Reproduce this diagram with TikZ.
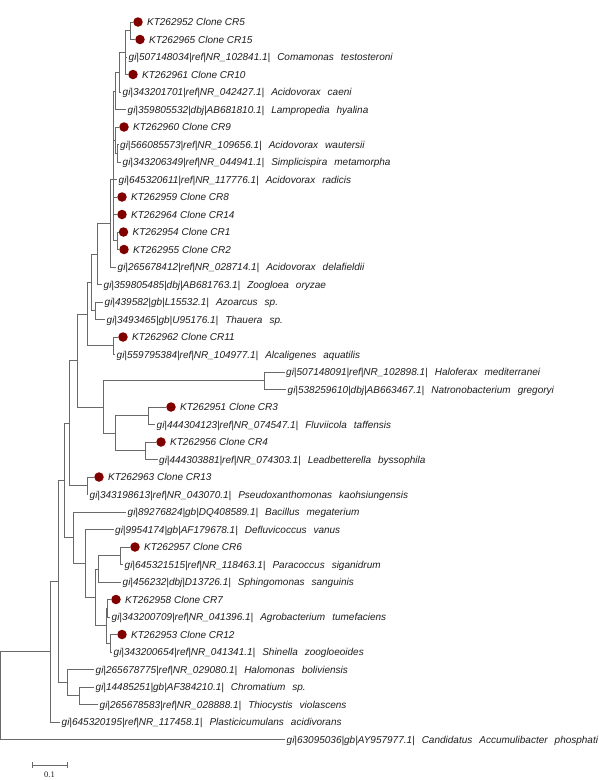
\documentclass[tikz,border=0pt]{standalone}
\usepackage{fontspec}
\newfontfamily\leaffamily{Liberation Sans}
\newfontfamily\scalefamily{Liberation Serif}
\definecolor{linecol}{RGB}{105,105,105}
\definecolor{textcol}{RGB}{30,30,30}
\definecolor{dotcol}{RGB}{128,0,0}
\newcommand\sgap{\hspace{0.7em}}
\newcommand\cloneleaf[5]{%
  \node[dot] (#1) at (#2,#3) {};
  \node[leaf, xshift=2.5pt] (#1t) at (#1.east) {#5};
  \draw[br] (#4) |- (#1);}
\newcommand\refleaf[5]{%
  \coordinate (#1) at (#2,#3);
  \node[leaf] (#1t) at (#1) {#5};
  \draw[br] (#4) |- (#1);}
\tikzset{
  br/.style={draw=linecol, line width=0.8pt},
  leaf/.style={anchor=west, inner xsep=1.5pt, inner ysep=0pt, text=textcol,
    font=\leaffamily\itshape\fontsize{10}{12}\selectfont, text height=9.16pt, text depth=2pt},
  dot/.style={circle, fill=dotcol, draw=none, minimum size=9.5pt, inner sep=0pt},
  scalelabel/.style={font=\scalefamily\fontsize{8.5}{10}\selectfont, text=textcol, inner sep=0pt}
}
\begin{document}
\begin{tikzpicture}[x=1pt, y=-1pt]
\path[fill=white, use as bounding box] (0,0) rectangle (598,780);
% internal nodes
\coordinate (root) at (0.6,695.6);
\coordinate (N) at (50,651.75);
\coordinate (M) at (58,581.5);
\coordinate (R) at (64,480.4);
\coordinate (Q) at (69,423.1);
\coordinate (P1) at (77,360.5);
\coordinate (P2) at (87,314);
\coordinate (P3) at (91,282.3);
\coordinate (P4) at (97,253.9);
\coordinate (T0) at (110,223.25);
\coordinate (T1) at (113,179.5);
\coordinate (A4) at (115,90.9);
\coordinate (A3) at (119,72.3);
\coordinate (A2) at (125.5,52.6);
\coordinate (A1) at (130,30.75);
\coordinate (B2) at (115.5,140.1);
\coordinate (B1) at (117,153.25);
\coordinate (C1) at (117,240.75);
\coordinate (AT) at (95,310.75);
\coordinate (C11) at (113,345.75);
\coordinate (HB) at (103,407);
\coordinate (HF) at (264,380.75);
\coordinate (FL) at (115,433.25);
\coordinate (C3) at (148,415.75);
\coordinate (C4) at (145,450.75);
\coordinate (C13) at (87,485.75);
\coordinate (B) at (73,537.7);
\coordinate (D) at (85,563.4);
\coordinate (E) at (95,597.3);
\coordinate (F) at (98,568.9);
\coordinate (C6) at (120,555.75);
\coordinate (G) at (106,625.75);
\coordinate (C7) at (107.5,608.25);
\coordinate (C12) at (110,643.25);
\coordinate (H) at (67,682.6);
\coordinate (CT) at (79,695.75);
% internal branches
\draw[br] (root) |- (N);
\draw[br] (N) |- (M);
\draw[br] (M) |- (R);
\draw[br] (M) |- (H);
\draw[br] (R) |- (Q);
\draw[br] (R) |- (B);
\draw[br] (Q) |- (P1);
\draw[br] (Q) |- (C13);
\draw[br] (P1) |- (P2);
\draw[br] (P1) |- (HB);
\draw[br] (P2) |- (P3);
\draw[br] (P2) |- (C11);
\draw[br] (P3) |- (P4);
\draw[br] (P3) |- (AT);
\draw[br] (P4) |- (T0);
\draw[br] (T0) |- (T1);
\draw[br] (T1) |- (A4);
\draw[br] (T1) |- (B2);
\draw[br] (T1) |- (C1);
\draw[br] (A4) |- (A3);
\draw[br] (A3) |- (A2);
\draw[br] (A2) |- (A1);
\draw[br] (B2) |- (B1);
\draw[br] (HB) |- (HF);
\draw[br] (HB) |- (FL);
\draw[br] (FL) |- (C3);
\draw[br] (FL) |- (C4);
\draw[br] (B) |- (D);
\draw[br] (D) |- (E);
\draw[br] (E) |- (F);
\draw[br] (E) |- (G);
\draw[br] (F) |- (C6);
\draw[br] (G) |- (C7);
\draw[br] (G) |- (C12);
\draw[br] (H) |- (CT);
% leaves
\cloneleaf{L1}{138}{22}{A1}{KT262952 Clone CR5}
\cloneleaf{L2}{140}{39.5}{A1}{KT262965 Clone CR15}
\refleaf{L3}{127}{57}{A2}{gi|507148034|ref|NR\_102841.1|\sgap Comamonas\sgap testosteroni}
\cloneleaf{L4}{133}{74.5}{A2}{KT262961 Clone CR10}
\refleaf{L5}{121}{92}{A3}{gi|343201701|ref|NR\_042427.1|\sgap Acidovorax\sgap caeni}
\refleaf{L6}{126}{109.5}{A4}{gi|359805532|dbj|AB681810.1|\sgap Lampropedia\sgap hyalina}
\cloneleaf{L7}{124}{127}{B2}{KT262960 Clone CR9}
\refleaf{L8}{118.5}{144.5}{B1}{gi|566085573|ref|NR\_109656.1|\sgap Acidovorax\sgap wautersii}
\refleaf{L9}{121}{162}{B1}{gi|343206349|ref|NR\_044941.1|\sgap Simplicispira\sgap metamorpha}
\refleaf{L10}{117}{179.5}{T1}{gi|645320611|ref|NR\_117776.1|\sgap Acidovorax\sgap radicis}
\cloneleaf{L11}{122}{197}{T1}{KT262959 Clone CR8}
\cloneleaf{L12}{122}{214.5}{T1}{KT262964 Clone CR14}
\cloneleaf{L13}{123.5}{232}{C1}{KT262954 Clone CR1}
\cloneleaf{L14}{124}{249.5}{C1}{KT262955 Clone CR2}
\refleaf{L15}{116}{267}{T0}{gi|265678412|ref|NR\_028714.1|\sgap Acidovorax\sgap delafieldii}
\refleaf{L16}{102}{284.5}{P4}{gi|359805485|dbj|AB681763.1|\sgap Zoogloea\sgap oryzae}
\refleaf{L17}{103}{302}{AT}{gi|439582|gb|L15532.1|\sgap Azoarcus\sgap sp.}
\refleaf{L18}{105}{319.5}{AT}{gi|3493465|gb|U95176.1|\sgap Thauera\sgap sp.}
\cloneleaf{L19}{123}{337}{C11}{KT262962 Clone CR11}
\refleaf{L20}{115}{354.5}{C11}{gi|559795384|ref|NR\_104977.1|\sgap Alcaligenes\sgap aquatilis}
\refleaf{L21}{284.5}{372}{HF}{gi|507148091|ref|NR\_102898.1|\sgap Haloferax\sgap mediterranei}
\refleaf{L22}{286}{389.5}{HF}{gi|538259610|dbj|AB663467.1|\sgap Natronobacterium\sgap gregoryi}
\cloneleaf{L23}{171}{407}{C3}{KT262951 Clone CR3}
\refleaf{L24}{155}{424.5}{C3}{gi|444304123|ref|NR\_074547.1|\sgap Fluviicola\sgap taffensis}
\cloneleaf{L25}{161}{442}{C4}{KT262956 Clone CR4}
\refleaf{L26}{157.5}{459.5}{C4}{gi|444303881|ref|NR\_074303.1|\sgap Leadbetterella\sgap byssophila}
\cloneleaf{L27}{99}{477}{C13}{KT262963 Clone CR13}
\refleaf{L28}{88}{494.5}{C13}{gi|343198613|ref|NR\_043070.1|\sgap Pseudoxanthomonas\sgap kaohsiungensis}
\refleaf{L29}{126}{512}{B}{gi|89276824|gb|DQ408589.1|\sgap Bacillus\sgap megaterium}
\refleaf{L30}{113.5}{529.5}{D}{gi|9954174|gb|AF179678.1|\sgap Defluvicoccus\sgap vanus}
\cloneleaf{L31}{135}{547}{C6}{KT262957 Clone CR6}
\refleaf{L32}{123}{564.5}{C6}{gi|645321515|ref|NR\_118463.1|\sgap Paracoccus\sgap siganidrum}
\refleaf{L33}{121}{582}{F}{gi|456232|dbj|D13726.1|\sgap Sphingomonas\sgap sanguinis}
\cloneleaf{L34}{116}{599.5}{C7}{KT262958 Clone CR7}
\refleaf{L35}{110}{617}{C7}{gi|343200709|ref|NR\_041396.1|\sgap Agrobacterium\sgap tumefaciens}
\cloneleaf{L36}{122}{634.5}{C12}{KT262953 Clone CR12}
\refleaf{L37}{112}{652}{C12}{gi|343200654|ref|NR\_041341.1|\sgap Shinella\sgap zoogloeoides}
\refleaf{L38}{94}{669.5}{H}{gi|265678775|ref|NR\_029080.1|\sgap Halomonas\sgap boliviensis}
\refleaf{L39}{94}{687}{CT}{gi|14485251|gb|AF384210.1|\sgap Chromatium\sgap sp.}
\refleaf{L40}{98}{704.5}{CT}{gi|265678583|ref|NR\_028888.1|\sgap Thiocystis\sgap violascens}
\refleaf{L41}{60}{722}{N}{gi|645320195|ref|NR\_117458.1|\sgap Plasticicumulans\sgap acidivorans}
\refleaf{L42}{285}{739.5}{root}{gi|63095036|gb|AY957977.1|\sgap Candidatus\sgap Accumulibacter\sgap phosphati}
% scale bar
\coordinate (sbA) at (32,765);
\coordinate (sbB) at (67,765);
\draw[br] (sbA) -- (sbB);
\draw[br] ([yshift=3pt]sbA) -- ([yshift=-3pt]sbA);
\draw[br] ([yshift=3pt]sbB) -- ([yshift=-3pt]sbB);
\node[scalelabel] (sbL) at (49.5,775) {0.1};
\end{tikzpicture}
\end{document}
